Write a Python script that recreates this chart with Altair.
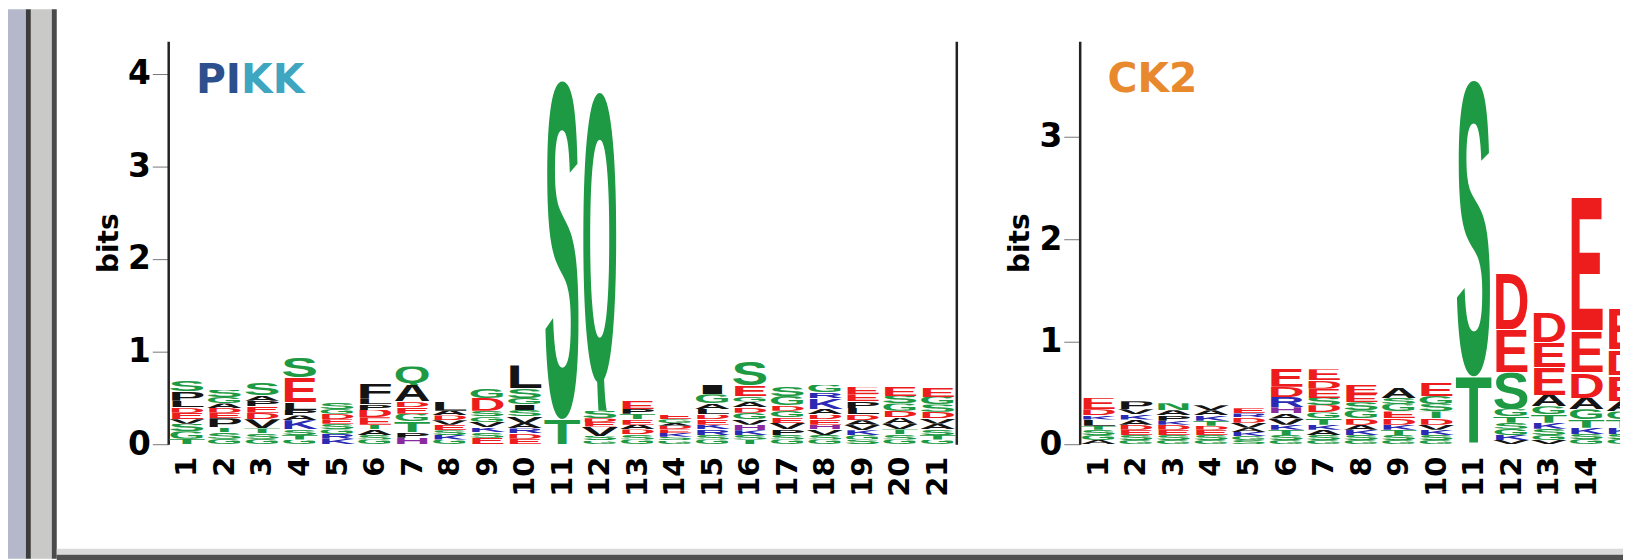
import altair as alt
import pandas as pd
from urllib.parse import quote

# ---------------- data: letters (bottom -> top) and their heights in bits ----------------
pikk_letters = [
    "TGSVEDLPS", "GSTPEDAGS", "GSTVDEPAS", "GTSKAPLES", "KRGSEDGS", "GSATEDPLF",
    "HPTGEDAQ", "GKSEVDAL", "ESKVGSDG", "EDRAVSIGSL", "TS", "GSVEDSQ",
    "GSDAETPE", "GSKEDAGE", "GSRKEDLAGI", "TSKHVGDAGES", "GSPVEGDGS",
    "GSVHEDAKRG", "SGKVADLPEE", "GSTVADGSE", "GTSAVDSGE",
]
pikk_heights = [
    [0.06, 0.08, 0.08, 0.05, 0.07, 0.06, 0.07, 0.10, 0.12],
    [0.06, 0.07, 0.05, 0.10, 0.06, 0.05, 0.05, 0.07, 0.08],
    [0.06, 0.06, 0.05, 0.10, 0.07, 0.07, 0.06, 0.06, 0.13],
    [0.05, 0.05, 0.06, 0.10, 0.05, 0.06, 0.08, 0.27, 0.22],
    [0.06, 0.05, 0.05, 0.06, 0.05, 0.06, 0.05, 0.07],
    [0.05, 0.05, 0.06, 0.05, 0.08, 0.08, 0.06, 0.06, 0.17],
    [0.07, 0.06, 0.12, 0.08, 0.07, 0.06, 0.18, 0.20],
    [0.05, 0.05, 0.05, 0.06, 0.05, 0.05, 0.05, 0.10],
    [0.07, 0.06, 0.05, 0.06, 0.06, 0.06, 0.14, 0.10],
    [0.06, 0.06, 0.05, 0.06, 0.07, 0.07, 0.06, 0.07, 0.10, 0.25],
    [0.27, 3.68],
    [0.04, 0.05, 0.10, 0.05, 0.04, 0.08, 3.46],
    [0.05, 0.06, 0.05, 0.05, 0.06, 0.06, 0.05, 0.09],
    [0.04, 0.04, 0.04, 0.04, 0.04, 0.03, 0.04, 0.05],
    [0.05, 0.05, 0.06, 0.05, 0.06, 0.05, 0.06, 0.06, 0.10, 0.10],
    [0.05, 0.05, 0.05, 0.06, 0.06, 0.07, 0.06, 0.06, 0.06, 0.12, 0.25],
    [0.05, 0.05, 0.06, 0.07, 0.06, 0.07, 0.06, 0.10, 0.10],
    [0.05, 0.05, 0.06, 0.05, 0.06, 0.05, 0.06, 0.12, 0.06, 0.08],
    [0.05, 0.05, 0.05, 0.06, 0.05, 0.06, 0.07, 0.07, 0.08, 0.08],
    [0.05, 0.06, 0.05, 0.06, 0.07, 0.07, 0.08, 0.08, 0.10],
    [0.05, 0.05, 0.06, 0.06, 0.06, 0.07, 0.08, 0.08, 0.10],
]

ck2_letters = [
    "AGSTLKDE", "GSEDAKVP", "GSEDKPAN", "GSEDTKAV", "SGKAVDRE", "GSTKVAHRDE",
    "GSAKTGDSEDE", "GSKADGSEE", "GSTKDEGSA", "GSKVDTSGE", "TS", "VKGSTGSED",
    "VGSKTGAEED", "GSKTGADEE", "GSKTGAEDE",
]
ck2_heights = [
    [0.04, 0.05, 0.05, 0.04, 0.06, 0.04, 0.06, 0.11],
    [0.04, 0.05, 0.05, 0.05, 0.05, 0.05, 0.05, 0.08],
    [0.04, 0.05, 0.05, 0.05, 0.04, 0.05, 0.05, 0.07],
    [0.04, 0.05, 0.05, 0.04, 0.05, 0.05, 0.05, 0.05],
    [0.04, 0.04, 0.04, 0.04, 0.05, 0.05, 0.04, 0.05],
    [0.04, 0.05, 0.05, 0.05, 0.06, 0.05, 0.06, 0.10, 0.10, 0.18],
    [0.04, 0.05, 0.05, 0.05, 0.06, 0.06, 0.07, 0.07, 0.09, 0.08, 0.11],
    [0.04, 0.05, 0.05, 0.05, 0.06, 0.08, 0.08, 0.08, 0.09],
    [0.04, 0.05, 0.05, 0.05, 0.06, 0.07, 0.07, 0.06, 0.10],
    [0.04, 0.05, 0.05, 0.05, 0.06, 0.07, 0.07, 0.08, 0.13],
    [0.66, 2.91],
    [0.04, 0.05, 0.06, 0.06, 0.06, 0.07, 0.36, 0.42, 0.56],
    [0.04, 0.05, 0.06, 0.06, 0.08, 0.08, 0.11, 0.27, 0.24, 0.30],
    [0.05, 0.05, 0.06, 0.08, 0.10, 0.11, 0.25, 0.40, 1.33],
    [0.05, 0.05, 0.06, 0.08, 0.08, 0.10, 0.25, 0.25, 0.40],
]

pikk_ticks = [0, 1, 2, 3, 4]
ck2_ticks = [0, 1, 2, 3]
pikk_positions = list(range(1, 22))
ck2_positions = list(range(1, 16))

# panel names, split into coloured parts
pikk_label = ["PI", "KK"]
pikk_label_colors = ["#2c4f8e", "#3ea6c0"]
ck2_label = ["CK2"]
ck2_label_colors = ["#e8892e"]

# ---------------- styling helpers ----------------
GREEN, RED, BLUE, PURPLE, BLACK = "#1d9a43", "#ee1d1d", "#2a2ab4", "#8a2aa0", "#141414"


def letter_color(ch):
    if ch in "GSTYCQN":
        return GREEN
    if ch in "DE":
        return RED
    if ch in "KR":
        return BLUE
    if ch in "H":
        return PURPLE
    return BLACK


def glyph_url(ch):
    bottom = 7.5 if ch == "Q" else 1.0
    svg = (
        "<svg xmlns='http://www.w3.org/2000/svg' width='100' height='100' "
        f"viewBox='0 -70.5 100 {70.5 + bottom}' preserveAspectRatio='none'>"
        "<text x='1' y='0' textLength='98' lengthAdjust='spacingAndGlyphs' "
        "font-family='Liberation Sans, Arial, Helvetica, sans-serif' font-weight='700' "
        f"font-size='100' fill='{letter_color(ch)}'>{ch}</text></svg>"
    )
    return "data:image/svg+xml;charset=utf-8," + quote(svg)


def logo_table(letters, heights):
    rows = []
    for i, (s, hs) in enumerate(zip(letters, heights), start=1):
        base = 0.0
        for ch, h in zip(s, hs):
            rows.append(dict(pos=i, letter=ch, y0=base, y1=base + h, url=glyph_url(ch)))
            base += h
    return pd.DataFrame(rows)


FONT = "DejaVu Sans"
COL = 792 / 21.0
PLOT_H = 405
LABEL_SIZE = 41
# DejaVu Sans Bold advance widths (em) for the panel-name characters
ADV = {"P": 0.733, "I": 0.372, "K": 0.775, "C": 0.734, "2": 0.696}


def logo_panel(df, ymax, ticks, positions, xmax, width, labels, colors, lx, ly, right_line):
    xs = alt.Scale(domain=[0.5, xmax], nice=False, zero=False)
    ys = alt.Scale(domain=[0, ymax], nice=False, zero=True)
    letters = alt.Chart(df).transform_calculate(
        x0="datum.pos - 0.5", x1="datum.pos + 0.5"
    ).mark_image(aspect=False, clip=True).encode(
        x=alt.X("x0:Q", scale=xs, axis=alt.Axis(
            values=positions, labelAngle=-90, ticks=False, domain=False, grid=False,
            title=None, labelFont=FONT, labelFontSize=29, labelFontWeight="bold",
            labelColor="black", labelPadding=12)),
        x2="x1:Q",
        y=alt.Y("y0:Q", scale=ys, axis=alt.Axis(
            values=ticks, title="bits", titleFont=FONT, titleFontSize=28,
            titleFontWeight="bold", titleColor="black", titlePadding=4,
            labelFont=FONT, labelFontSize=33, labelFontWeight="bold", labelColor="black",
            labelPadding=2, tickSize=16, tickColor="#777777", tickWidth=1,
            domainColor="#222222", domainWidth=2.5, grid=False)),
        y2="y1:Q",
        url="url:N",
    )
    layers = [letters]
    x_at = lx
    for i, (txt, col) in enumerate(zip(labels, colors)):
        yaxis = None
        if i == 0 and right_line:
            yaxis = alt.Axis(orient="right", labels=False, ticks=False, title=None,
                             domainColor="#222222", domainWidth=2.5, grid=False)
        t = alt.Chart(pd.DataFrame({"t": [txt]})).mark_text(
            align="left", baseline="alphabetic", font=FONT, fontSize=LABEL_SIZE,
            fontWeight="bold", color=col,
        ).encode(
            text="t:N",
            x=alt.datum(x_at, axis=None),
            y=alt.datum(ly, axis=yaxis),
        )
        layers.append(t)
        x_at += sum(ADV[c] for c in txt) * LABEL_SIZE / COL
    return alt.layer(*layers).resolve_axis(x="independent", y="independent").properties(
        width=width, height=PLOT_H)


def block(w, h, fill=None):
    c = alt.Chart(alt.Data(values=[{}])).mark_point(opacity=0, size=1).properties(
        width=w, height=h)
    if fill:
        c = c.properties(view=alt.ViewBackground(fill=fill, strokeWidth=0))
    return c


pikk_df = logo_table(pikk_letters, pikk_heights)
ck2_df = logo_table(ck2_letters, ck2_heights)

ck2_width = 543
pikk = logo_panel(pikk_df, 4.35, pikk_ticks, pikk_positions, 21.5, 792,
                  pikk_label, pikk_label_colors, 1.24, 3.79, True)
ck2 = logo_panel(ck2_df, 3.93, ck2_ticks, ck2_positions, 0.5 + ck2_width / COL, ck2_width,
                 ck2_label, ck2_label_colors, 1.24, 3.43, False)

strips = alt.hconcat(
    block(18, 552, "#b5b8cb"),
    block(5, 552, "#3c3c3c"),
    block(21, 552, "#c9c9c7"),
    block(5, 552, "#4a4a4a"),
    spacing=0,
)

logos = alt.hconcat(block(39, 10), alt.hconcat(pikk, ck2, spacing=51), spacing=0)

right = alt.vconcat(
    block(10, 32),
    logos,
    block(10, 52),
    block(1574, 6, "#dadada"),
    block(1574, 7, "#505050"),
    spacing=0,
)

chart = alt.hconcat(strips, right, spacing=0).properties(
    padding=0, background="white"
).configure_view(strokeWidth=0)

chart.save("out.html", embed_options={"renderer": "svg", "actions": False})
